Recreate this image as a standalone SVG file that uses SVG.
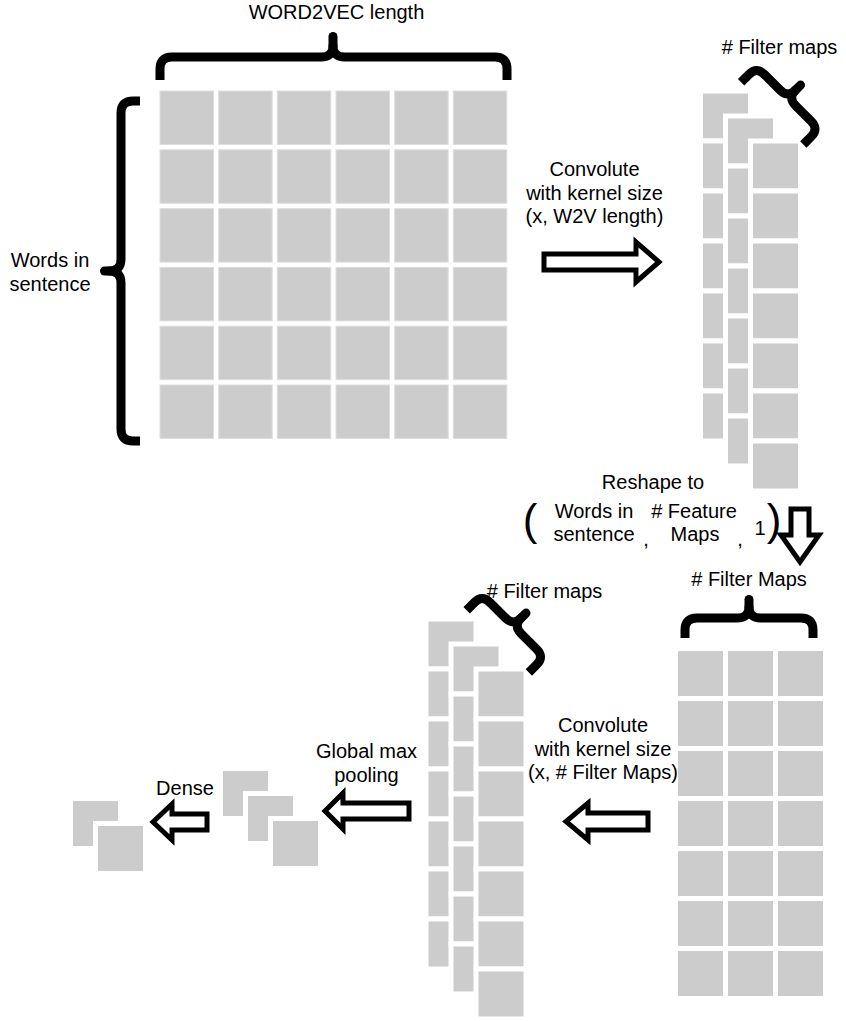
<svg xmlns="http://www.w3.org/2000/svg" width="846" height="1021" viewBox="0 0 846 1021">
<style>
.cell{fill:#cccccc;stroke:#dedede;stroke-width:1}
.sq{fill:#cccccc;stroke:#ffffff;stroke-width:10;paint-order:stroke}
.brace{fill:none;stroke:#000;stroke-width:9;stroke-linejoin:round;stroke-linecap:butt}
.stem{fill:none;stroke:#000;stroke-width:9;stroke-linecap:round}
.arrow{fill:#fff;stroke:#000;stroke-width:5;stroke-linejoin:miter}
text{font-family:"Liberation Sans",Arial,sans-serif;font-size:20px;fill:#000;text-anchor:middle}
</style>
<rect width="846" height="1021" fill="#fff"/>

<g id="embedding-matrix">
<rect class="cell" x="160" y="91" width="53.5" height="53.5"/><rect class="cell" x="218.7" y="91" width="53.5" height="53.5"/><rect class="cell" x="277.3" y="91" width="53.5" height="53.5"/><rect class="cell" x="336" y="91" width="53.5" height="53.5"/><rect class="cell" x="394.7" y="91" width="53.5" height="53.5"/><rect class="cell" x="453.3" y="91" width="53.5" height="53.5"/>
<rect class="cell" x="160" y="149.8" width="53.5" height="53.5"/><rect class="cell" x="218.7" y="149.8" width="53.5" height="53.5"/><rect class="cell" x="277.3" y="149.8" width="53.5" height="53.5"/><rect class="cell" x="336" y="149.8" width="53.5" height="53.5"/><rect class="cell" x="394.7" y="149.8" width="53.5" height="53.5"/><rect class="cell" x="453.3" y="149.8" width="53.5" height="53.5"/>
<rect class="cell" x="160" y="208.6" width="53.5" height="53.5"/><rect class="cell" x="218.7" y="208.6" width="53.5" height="53.5"/><rect class="cell" x="277.3" y="208.6" width="53.5" height="53.5"/><rect class="cell" x="336" y="208.6" width="53.5" height="53.5"/><rect class="cell" x="394.7" y="208.6" width="53.5" height="53.5"/><rect class="cell" x="453.3" y="208.6" width="53.5" height="53.5"/>
<rect class="cell" x="160" y="267.4" width="53.5" height="53.5"/><rect class="cell" x="218.7" y="267.4" width="53.5" height="53.5"/><rect class="cell" x="277.3" y="267.4" width="53.5" height="53.5"/><rect class="cell" x="336" y="267.4" width="53.5" height="53.5"/><rect class="cell" x="394.7" y="267.4" width="53.5" height="53.5"/><rect class="cell" x="453.3" y="267.4" width="53.5" height="53.5"/>
<rect class="cell" x="160" y="326.2" width="53.5" height="53.5"/><rect class="cell" x="218.7" y="326.2" width="53.5" height="53.5"/><rect class="cell" x="277.3" y="326.2" width="53.5" height="53.5"/><rect class="cell" x="336" y="326.2" width="53.5" height="53.5"/><rect class="cell" x="394.7" y="326.2" width="53.5" height="53.5"/><rect class="cell" x="453.3" y="326.2" width="53.5" height="53.5"/>
<rect class="cell" x="160" y="385" width="53.5" height="53.5"/><rect class="cell" x="218.7" y="385" width="53.5" height="53.5"/><rect class="cell" x="277.3" y="385" width="53.5" height="53.5"/><rect class="cell" x="336" y="385" width="53.5" height="53.5"/><rect class="cell" x="394.7" y="385" width="53.5" height="53.5"/><rect class="cell" x="453.3" y="385" width="53.5" height="53.5"/>
</g>

<g id="brace-word2vec">
<path class="brace" d="M160,80 V69 Q160,57 172,57 H321 Q333,57 333,46 Q333,57 345,57 H495 Q507,57 507,69 V80"/>
<path class="stem" d="M333,46 V36.5"/>
<text x="336.5" y="19">WORD2VEC length</text>
</g>

<g id="brace-words">
<path class="brace" d="M140,101 H133 Q121,101 121,113 V259 Q121,271 109,271 Q121,271 121,283 V429 Q121,441 133,441 H140"/>
<path class="stem" d="M109,271 H104.5"/>
<text x="50" y="267">Words in</text>
<text x="50" y="291">sentence</text>
</g>

<g id="filter-maps-1">
<rect class="sq" x="703" y="93.5" width="45" height="45"/><rect class="sq" x="703" y="143.5" width="45" height="45"/><rect class="sq" x="703" y="193.5" width="45" height="45"/><rect class="sq" x="703" y="243.5" width="45" height="45"/><rect class="sq" x="703" y="293.5" width="45" height="45"/><rect class="sq" x="703" y="343.5" width="45" height="45"/><rect class="sq" x="703" y="393.5" width="45" height="45"/>
<rect class="sq" x="728" y="118.5" width="45" height="45"/><rect class="sq" x="728" y="168.5" width="45" height="45"/><rect class="sq" x="728" y="218.5" width="45" height="45"/><rect class="sq" x="728" y="268.5" width="45" height="45"/><rect class="sq" x="728" y="318.5" width="45" height="45"/><rect class="sq" x="728" y="368.5" width="45" height="45"/><rect class="sq" x="728" y="418.5" width="45" height="45"/>
<rect class="sq" x="753" y="143.5" width="45" height="45"/><rect class="sq" x="753" y="193.5" width="45" height="45"/><rect class="sq" x="753" y="243.5" width="45" height="45"/><rect class="sq" x="753" y="293.5" width="45" height="45"/><rect class="sq" x="753" y="343.5" width="45" height="45"/><rect class="sq" x="753" y="393.5" width="45" height="45"/><rect class="sq" x="753" y="443.5" width="45" height="45"/>
</g>

<g id="brace-filter-maps-1">
<path class="brace" transform="translate(787.8,97.8) rotate(45)" d="M-44,22 V11 Q-44,0 -33,0 H-11 Q0,0 0,-11 Q0,0 11,0 H33 Q44,0 44,11 V22"/>
<path class="stem" transform="translate(787.8,97.8) rotate(45)" d="M0,-11 V-18"/>
<text x="779.5" y="54"># Filter maps</text>
</g>

<g id="reshape-label">
<text x="653" y="489">Reshape to</text>
<text x="530" y="535" style="font-size:44px">(</text>
<text x="594" y="518">Words in</text>
<text x="594" y="541">sentence</text>
<text x="646" y="546">,</text>
<text x="694" y="518"># Feature</text>
<text x="695" y="541">Maps</text>
<text x="740" y="546">,</text>
<text x="760" y="535">1</text>
<text x="774" y="535" style="font-size:44px">)</text>
</g>

<g id="feature-matrix">
<rect class="sq" x="678" y="651" width="45" height="45"/><rect class="sq" x="728" y="651" width="45" height="45"/><rect class="sq" x="778" y="651" width="45" height="45"/>
<rect class="sq" x="678" y="701" width="45" height="45"/><rect class="sq" x="728" y="701" width="45" height="45"/><rect class="sq" x="778" y="701" width="45" height="45"/>
<rect class="sq" x="678" y="751" width="45" height="45"/><rect class="sq" x="728" y="751" width="45" height="45"/><rect class="sq" x="778" y="751" width="45" height="45"/>
<rect class="sq" x="678" y="801" width="45" height="45"/><rect class="sq" x="728" y="801" width="45" height="45"/><rect class="sq" x="778" y="801" width="45" height="45"/>
<rect class="sq" x="678" y="851" width="45" height="45"/><rect class="sq" x="728" y="851" width="45" height="45"/><rect class="sq" x="778" y="851" width="45" height="45"/>
<rect class="sq" x="678" y="901" width="45" height="45"/><rect class="sq" x="728" y="901" width="45" height="45"/><rect class="sq" x="778" y="901" width="45" height="45"/>
<rect class="sq" x="678" y="951" width="45" height="45"/><rect class="sq" x="728" y="951" width="45" height="45"/><rect class="sq" x="778" y="951" width="45" height="45"/>
</g>

<g id="brace-filter-maps-cols">
<path class="brace" d="M685,638 V630 Q685,618 697,618 H737 Q749,618 749,607 Q749,618 761,618 H801 Q813,618 813,630 V638"/>
<path class="stem" d="M749,607 V599.5"/>
<text x="749" y="586"># Filter Maps</text>
</g>

<g id="filter-maps-2" transform="translate(-274.5,528)">
<rect class="sq" x="703" y="93.5" width="45" height="45"/><rect class="sq" x="703" y="143.5" width="45" height="45"/><rect class="sq" x="703" y="193.5" width="45" height="45"/><rect class="sq" x="703" y="243.5" width="45" height="45"/><rect class="sq" x="703" y="293.5" width="45" height="45"/><rect class="sq" x="703" y="343.5" width="45" height="45"/><rect class="sq" x="703" y="393.5" width="45" height="45"/>
<rect class="sq" x="728" y="118.5" width="45" height="45"/><rect class="sq" x="728" y="168.5" width="45" height="45"/><rect class="sq" x="728" y="218.5" width="45" height="45"/><rect class="sq" x="728" y="268.5" width="45" height="45"/><rect class="sq" x="728" y="318.5" width="45" height="45"/><rect class="sq" x="728" y="368.5" width="45" height="45"/><rect class="sq" x="728" y="418.5" width="45" height="45"/>
<rect class="sq" x="753" y="143.5" width="45" height="45"/><rect class="sq" x="753" y="193.5" width="45" height="45"/><rect class="sq" x="753" y="243.5" width="45" height="45"/><rect class="sq" x="753" y="293.5" width="45" height="45"/><rect class="sq" x="753" y="343.5" width="45" height="45"/><rect class="sq" x="753" y="393.5" width="45" height="45"/><rect class="sq" x="753" y="443.5" width="45" height="45"/>
</g>

<g id="brace-filter-maps-2">
<path class="brace" transform="translate(513.3,625.8) rotate(45)" d="M-44,22 V11 Q-44,0 -33,0 H-11 Q0,0 0,-11 Q0,0 11,0 H33 Q44,0 44,11 V22"/>
<path class="stem" transform="translate(513.3,625.8) rotate(45)" d="M0,-11 V-18"/>
<text x="544.5" y="598"># Filter maps</text>
</g>

<g id="pooled">
<rect class="sq" x="223" y="771" width="45" height="45"/>
<rect class="sq" x="248" y="796" width="45" height="45"/>
<rect class="sq" x="273" y="821" width="45" height="45"/>
</g>

<g id="dense-out">
<rect class="sq" x="73" y="801" width="45" height="45"/>
<rect class="sq" x="98" y="826" width="45" height="45"/>
</g>

<g id="connectors">
<polygon class="arrow" points="544,254 636,254 636,242 659,262 636,282 636,270 544,270"/>
<text x="594.5" y="176">Convolute</text>
<text x="594.5" y="200">with kernel size</text>
<text x="594.5" y="223">(x, W2V length)</text>

<polygon class="arrow" points="791,509 809,509 809,535 819,535 800,562 781,535 791,535"/>

<polygon class="arrow" points="648,813 588,813 588,803 566,821.5 588,840 588,830 648,830"/>
<text x="603" y="732">Convolute</text>
<text x="603" y="756">with kernel size</text>
<text x="603" y="779">(x, # Filter Maps)</text>

<polygon class="arrow" points="409,803 343,803 343,793 325,811 343,829 343,819 409,819"/>
<text x="366.5" y="758">Global max</text>
<text x="366.5" y="782">pooling</text>

<polygon class="arrow" points="207,814 172,814 172,804 153,822 172,840 172,830 207,830"/>
<text x="185" y="795">Dense</text>
</g>
</svg>
